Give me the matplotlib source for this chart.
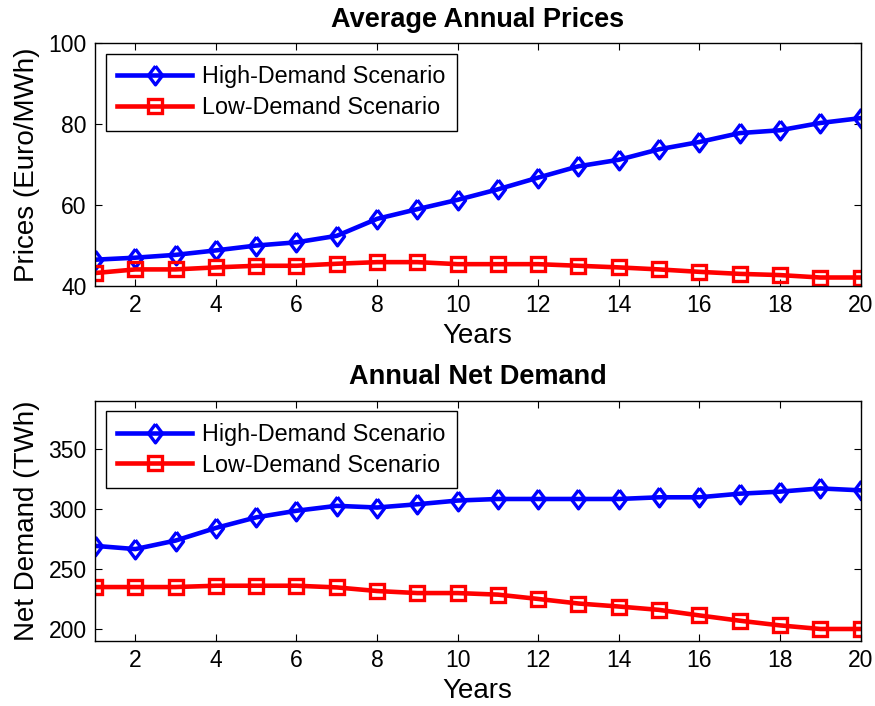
import matplotlib
matplotlib.use("Agg")
import matplotlib.pyplot as plt
import numpy as np

years = list(range(1, 21))
price_high = [46.5, 47.0, 47.7, 48.8, 50.0, 50.8, 52.4, 56.6, 59.0, 61.3,
              63.9, 66.8, 69.6, 71.2, 73.8, 75.6, 77.8, 78.5, 80.3, 81.5]
price_low = [43.2, 44.1, 44.1, 44.6, 45.0, 45.0, 45.5, 45.9, 45.9, 45.4,
             45.4, 45.4, 45.0, 44.6, 44.1, 43.5, 43.0, 42.7, 42.1, 42.1]
demand_high = [269.2, 266.5, 273.6, 284.1, 292.9, 298.4, 302.5, 301.1, 303.8, 306.9,
               308.2, 308.2, 308.2, 308.2, 309.6, 309.6, 312.6, 314.3, 317.0, 315.4]
demand_low = [234.9, 234.9, 234.9, 236.0, 236.0, 236.0, 234.6, 231.6, 229.9, 229.9,
              228.6, 225.0, 221.2, 218.7, 215.9, 211.3, 206.9, 203.0, 200.0, 200.0]
series_labels = ["High-Demand Scenario", "Low-Demand Scenario"]
titles = ["Average Annual Prices", "Annual Net Demand"]
ylabels = ["Prices (Euro/MWh)", "Net Demand (TWh)"]
xlabel = "Years"
x_ticks = list(range(2, 21, 2))
price_ticks = [40, 60, 80, 100]
demand_ticks = [200, 250, 300, 350]

plt.rcParams['font.family'] = ['Liberation Sans', 'DejaVu Sans']

W, H = 875, 706
fig = plt.figure(figsize=(W / 100, H / 100), dpi=100)

def box(l, t, r, b):
    return [l / W, 1 - b / H, (r - l) / W, (b - t) / H]

diamond = [(0, 1), (0.75, 0), (0, -1), (-0.75, 0), (0, 1)]

ax1 = fig.add_axes(box(95, 43.3, 860.5, 286))
ax2 = fig.add_axes(box(95, 400.7, 860.5, 641))

def draw(ax, hi, lo, ylim, yticks, title, ylabel):
    ax.plot(years, hi, color=(0, 0, 1), lw=3.3, marker=diamond, ms=13.5,
            mfc='none', mec=(0, 0, 1), mew=2.4, label=series_labels[0])
    ax.plot(years, lo, color=(1, 0, 0), lw=3.3, marker='s', ms=10.5,
            mfc='none', mec=(1, 0, 0), mew=2.4, label=series_labels[1])
    ax.set_xlim(1, 20)
    ax.set_ylim(*ylim)
    ax.set_xticks(x_ticks)
    ax.set_yticks(yticks)
    ax.tick_params(direction='in', length=5, width=0.8, top=True, right=True,
                   labelsize=16.5, pad=6, colors='black')
    for s in ax.spines.values():
        s.set_linewidth(1.0)
        s.set_color('black')
    ax.set_title(title, fontsize=19.5, fontweight='bold', pad=12)
    ax.set_ylabel(ylabel, fontsize=20, labelpad=6)
    ax.set_xlabel(xlabel, fontsize=20, labelpad=4)
    leg = ax.legend(loc='upper left', fontsize=16.8, frameon=True, fancybox=False,
                    edgecolor='black', numpoints=1, handlelength=3.2,
                    handletextpad=0.45, labelspacing=0.33, borderaxespad=0.45,
                    borderpad=0.5)
    leg.get_frame().set_linewidth(1.0)
    leg.get_frame().set_alpha(1)

draw(ax1, price_high, price_low, (40, 100), price_ticks, titles[0], ylabels[0])
draw(ax2, demand_high, demand_low, (190, 390), demand_ticks, titles[1], ylabels[1])

fig.savefig("out.png", dpi=100)
